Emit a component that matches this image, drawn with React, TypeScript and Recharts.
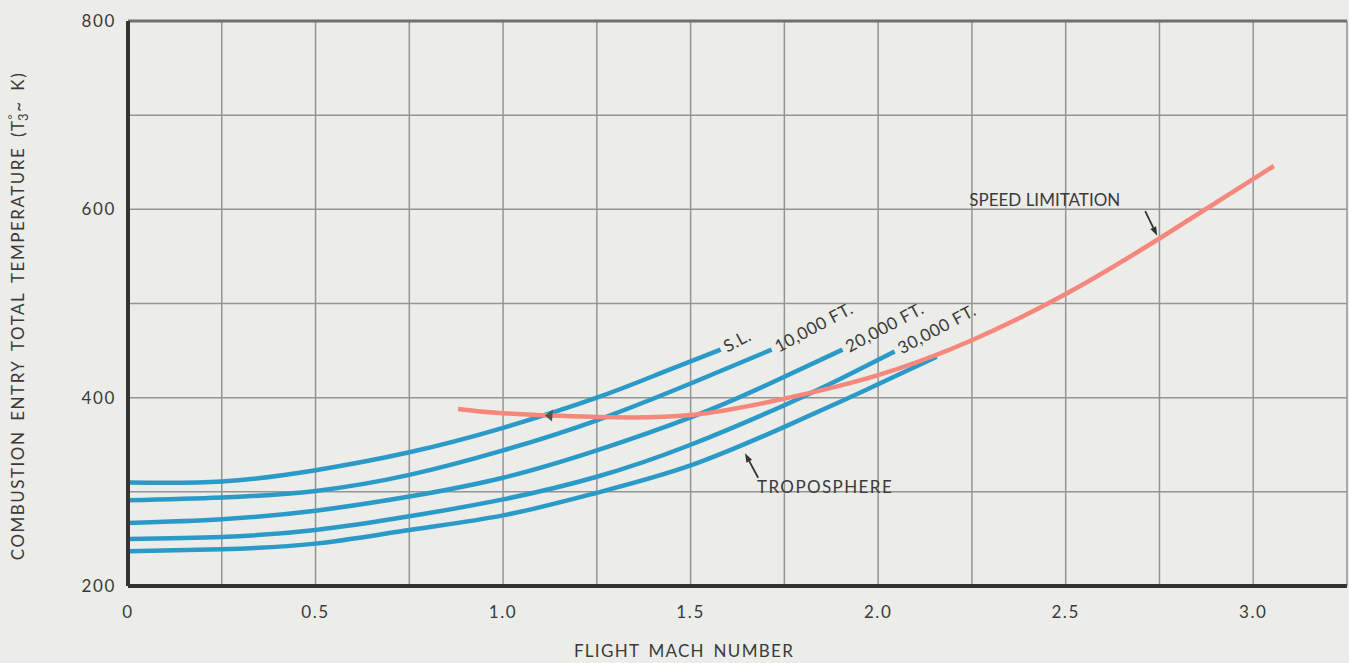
import React from 'react';
import { LineChart, Line, XAxis, YAxis, CartesianGrid, ReferenceLine, ReferenceDot, Label } from 'recharts';

const FONT = "Lato, 'Noto Sans', sans-serif";
const TEXT = '#3a3a3a';
const BLUE = '#2a9ac8';
const RED = '#f5877c';

const MACH_TICKS = [0, 0.25, 0.5, 0.75, 1.0, 1.25, 1.5, 1.75, 2.0, 2.25, 2.5, 2.75, 3.0];
const MACH_LABELED = [0, 0.5, 1.0, 1.5, 2.0, 2.5, 3.0];
const TEMP_TICKS = [200, 300, 400, 500, 600, 700, 800];
const TEMP_LABELED = [200, 400, 600, 800];

const SL_MACH = [0, 0.25, 0.5, 0.75, 1.0, 1.25, 1.42, 1.58];
const SL_TEMP = [310, 311, 323, 342, 368, 400, 426, 451];

const FT10K_MACH = [0, 0.25, 0.5, 0.75, 1.0, 1.25, 1.5, 1.716];
const FT10K_TEMP = [291, 294, 301, 318, 344, 376, 415, 451];

const FT20K_MACH = [0, 0.25, 0.5, 0.75, 1.0, 1.25, 1.5, 1.70, 1.905];
const FT20K_TEMP = [267, 271, 280, 295, 315, 344, 379, 413, 451];

const FT30K_MACH = [0, 0.25, 0.5, 0.75, 1.0, 1.25, 1.5, 1.75, 1.9, 2.044];
const FT30K_TEMP = [250, 252, 259.5, 274, 292, 316, 350, 392, 420, 449];

const TROPO_MACH = [0, 0.25, 0.5, 0.75, 1.0, 1.25, 1.5, 1.75, 1.95, 2.156];
const TROPO_TEMP = [237, 239, 245, 259.5, 275, 299, 328, 369, 405, 443.5];

const LIMIT_MACH = [0.88, 1.0, 1.25, 1.5, 1.75, 2.0, 2.25, 2.5, 2.75, 3.055];
const LIMIT_TEMP = [388, 383.5, 379.5, 381.5, 399, 424, 461, 510, 569, 646];

const CURVE_LABELS = ['S.L.', '10,000 FT.', '20,000 FT.', '30,000 FT.'];

const toPoints = (m: number[], t: number[]) => m.map((x, i) => ({ mach: x, temp: t[i] }));

const slData = toPoints(SL_MACH, SL_TEMP);
const d10 = toPoints(FT10K_MACH, FT10K_TEMP);
const d20 = toPoints(FT20K_MACH, FT20K_TEMP);
const d30 = toPoints(FT30K_MACH, FT30K_TEMP);
const dTropo = toPoints(TROPO_MACH, TROPO_TEMP);
const dLimit = toPoints(LIMIT_MACH, LIMIT_TEMP);

const labeledCurves = [slData, d10, d20, d30];

const rotLabel = (text: string) => (p: any) => {
  const x = p.cx + 7;
  const y = p.cy + 3;
  return (
    <text x={x} y={y} transform={`rotate(-28 ${x} ${y})`} fill={TEXT} fontSize={17} fontFamily={FONT} textAnchor="start" letterSpacing={0.6}>
      {text}
    </text>
  );
};

const plainLabel = (text: string, ls: number) => (p: any) => (
  <text x={p.cx} y={p.cy} fill={TEXT} fontSize={17} fontFamily={FONT} textAnchor="start" letterSpacing={ls}>
    {text}
  </text>
);

const arrowShape = (p: any) => {
  const { x1, y1, x2, y2 } = p;
  const ang = Math.atan2(y2 - y1, x2 - x1);
  const L = 9;
  const W = 3.2;
  const bx = x2 - L * Math.cos(ang);
  const by = y2 - L * Math.sin(ang);
  const nx = -Math.sin(ang) * W;
  const ny = Math.cos(ang) * W;
  return (
    <g>
      <line x1={x1} y1={y1} x2={bx} y2={by} stroke="#333" strokeWidth={1.8} />
      <polygon points={`${x2},${y2} ${bx + nx},${by + ny} ${bx - nx},${by - ny}`} fill="#333" />
    </g>
  );
};

const leftHead = (p: any) => (
  <polygon points={`${p.cx - 5},${p.cy} ${p.cx + 3},${p.cy - 6} ${p.cx + 2},${p.cy + 6}`} fill="#555" />
);

const fmtX = (v: number) => (MACH_LABELED.includes(v) ? (v === 0 ? '0' : v.toFixed(1)) : '');
const fmtY = (v: number) => (TEMP_LABELED.includes(v) ? String(v) : '');

const YLabel = () => (
  <text transform="translate(24,316) rotate(-90)" textAnchor="middle" fill={TEXT} fontSize={17} fontFamily={FONT} letterSpacing={1.5} wordSpacing={4}>
    COMBUSTION ENTRY TOTAL TEMPERATURE (T
    <tspan fontSize={12} dy={-7}>°</tspan>
    <tspan fontSize={13} dx={-8} dy={11}>3</tspan>
    <tspan dy={-4}>~ K)</tspan>
  </text>
);

const XLabel = () => (
  <text x={684} y={657} textAnchor="middle" fill={TEXT} fontSize={17} fontFamily={FONT} letterSpacing={1.3} wordSpacing={3}>
    FLIGHT MACH NUMBER
  </text>
);

const tickStyle = { fill: TEXT, fontSize: 17, fontFamily: FONT, letterSpacing: 1.6 };

export default function App() {
  return (
    <div style={{ position: 'absolute', left: 0, top: 0, width: 1349, height: 663, background: '#ecece9', overflow: 'hidden' }}>
      <LineChart width={1349} height={663} margin={{ top: 21, right: 2, bottom: 47, left: 68 }}>
        <CartesianGrid stroke="#949494" strokeWidth={1.5} />
        <XAxis
          type="number"
          dataKey="mach"
          domain={[0, 3.25]}
          ticks={MACH_TICKS}
          tickFormatter={fmtX}
          allowDataOverflow
          height={30}
          axisLine={{ stroke: '#333', strokeWidth: 4 }}
          tickLine={false}
          tickSize={0}
          tickMargin={20}
          tick={tickStyle}
          label={<Label content={<XLabel />} />}
        />
        <YAxis
          type="number"
          dataKey="temp"
          domain={[200, 800]}
          ticks={TEMP_TICKS}
          tickFormatter={fmtY}
          allowDataOverflow
          width={60}
          axisLine={{ stroke: '#333', strokeWidth: 4 }}
          tickLine={false}
          tickSize={0}
          tickMargin={12}
          tick={tickStyle}
          label={<Label content={<YLabel />} />}
        />
        <ReferenceLine y={800} stroke="#707070" strokeWidth={3} />
        <Line data={slData} dataKey="temp" type="natural" stroke={BLUE} strokeWidth={4.5} dot={false} isAnimationActive={false} />
        <Line data={d10} dataKey="temp" type="natural" stroke={BLUE} strokeWidth={4.5} dot={false} isAnimationActive={false} />
        <Line data={d20} dataKey="temp" type="natural" stroke={BLUE} strokeWidth={4.5} dot={false} isAnimationActive={false} />
        <Line data={d30} dataKey="temp" type="natural" stroke={BLUE} strokeWidth={4.5} dot={false} isAnimationActive={false} />
        <Line data={dTropo} dataKey="temp" type="natural" stroke={BLUE} strokeWidth={4.5} dot={false} isAnimationActive={false} />
        <Line data={dLimit} dataKey="temp" type="natural" stroke={RED} strokeWidth={4.5} dot={false} isAnimationActive={false} />
        {labeledCurves.map((d, i) => {
          const last = d[d.length - 1];
          return <ReferenceDot key={i} x={last.mach} y={last.temp} r={0} shape={rotLabel(CURVE_LABELS[i])} />;
        })}
        <ReferenceDot x={2.243} y={603.5} r={0} shape={plainLabel('SPEED LIMITATION', 0)} />
        <ReferenceDot x={1.677} y={298.8} r={0} shape={plainLabel('TROPOSPHERE', 1.4)} />
        <ReferenceLine segment={[{ x: 1.68, y: 315 }, { x: 1.645, y: 341 }]} shape={arrowShape} />
        <ReferenceLine segment={[{ x: 2.712, y: 598 }, { x: 2.744, y: 572 }]} shape={arrowShape} />
        <ReferenceDot x={1.125} y={381} r={0} shape={leftHead} />
      </LineChart>
    </div>
  );
}
